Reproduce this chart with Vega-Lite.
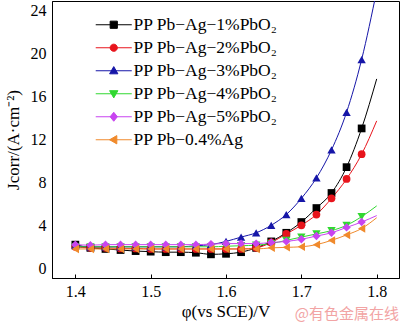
{
  "$schema": "https://vega.github.io/schema/vega-lite/v6.json",
  "width": 347,
  "height": 277,
  "autosize": {"type": "none"},
  "padding": {"left": 52, "top": 1, "right": 1, "bottom": 46},
  "background": "white",
  "title": {"text": "@有色金属在线", "orient": "bottom", "anchor": "end", "frame": "group", "color": "#f2a4a4", "fontSize": 15, "font": "Noto Sans CJK SC", "fontWeight": "normal", "offset": -12},
  "config": {
    "view": {"stroke": "black", "strokeWidth": 1},
    "axis": {"labelFont": "Liberation Serif", "labelFontSize": 16, "labelColor": "black", "titleFont": "Liberation Serif", "titleFontSize": 17, "titleFontWeight": "normal", "titleColor": "black", "domainColor": "black", "tickColor": "black", "grid": false},
    "legend": {"labelFont": "Liberation Serif", "labelFontSize": 17.5, "labelColor": "black"}
  },
  "data": {"values": [
    {"s":"PP Pb−Ag−1%PbO₂","x":1.40,"y":2.2},{"s":"PP Pb−Ag−1%PbO₂","x":1.42,"y":1.9},{"s":"PP Pb−Ag−1%PbO₂","x":1.44,"y":1.8},{"s":"PP Pb−Ag−1%PbO₂","x":1.46,"y":1.7},{"s":"PP Pb−Ag−1%PbO₂","x":1.48,"y":1.6},{"s":"PP Pb−Ag−1%PbO₂","x":1.50,"y":1.55},{"s":"PP Pb−Ag−1%PbO₂","x":1.52,"y":1.5},{"s":"PP Pb−Ag−1%PbO₂","x":1.54,"y":1.5},{"s":"PP Pb−Ag−1%PbO₂","x":1.56,"y":1.45},{"s":"PP Pb−Ag−1%PbO₂","x":1.58,"y":1.3},{"s":"PP Pb−Ag−1%PbO₂","x":1.60,"y":1.35},{"s":"PP Pb−Ag−1%PbO₂","x":1.62,"y":1.5},{"s":"PP Pb−Ag−1%PbO₂","x":1.64,"y":1.9},{"s":"PP Pb−Ag−1%PbO₂","x":1.66,"y":2.5},{"s":"PP Pb−Ag−1%PbO₂","x":1.68,"y":3.3},{"s":"PP Pb−Ag−1%PbO₂","x":1.70,"y":4.3},{"s":"PP Pb−Ag−1%PbO₂","x":1.72,"y":5.6},{"s":"PP Pb−Ag−1%PbO₂","x":1.74,"y":7.0},{"s":"PP Pb−Ag−1%PbO₂","x":1.76,"y":9.4},{"s":"PP Pb−Ag−1%PbO₂","x":1.78,"y":13.0},{"s":"PP Pb−Ag−1%PbO₂","x":1.80,"y":17.6},
    {"s":"PP Pb−Ag−2%PbO₂","x":1.40,"y":2.0},{"s":"PP Pb−Ag−2%PbO₂","x":1.42,"y":1.9},{"s":"PP Pb−Ag−2%PbO₂","x":1.44,"y":1.9},{"s":"PP Pb−Ag−2%PbO₂","x":1.46,"y":1.85},{"s":"PP Pb−Ag−2%PbO₂","x":1.48,"y":1.85},{"s":"PP Pb−Ag−2%PbO₂","x":1.50,"y":1.8},{"s":"PP Pb−Ag−2%PbO₂","x":1.52,"y":1.8},{"s":"PP Pb−Ag−2%PbO₂","x":1.54,"y":1.8},{"s":"PP Pb−Ag−2%PbO₂","x":1.56,"y":1.8},{"s":"PP Pb−Ag−2%PbO₂","x":1.58,"y":1.8},{"s":"PP Pb−Ag−2%PbO₂","x":1.60,"y":1.8},{"s":"PP Pb−Ag−2%PbO₂","x":1.62,"y":1.8},{"s":"PP Pb−Ag−2%PbO₂","x":1.64,"y":1.9},{"s":"PP Pb−Ag−2%PbO₂","x":1.66,"y":2.4},{"s":"PP Pb−Ag−2%PbO₂","x":1.68,"y":3.2},{"s":"PP Pb−Ag−2%PbO₂","x":1.70,"y":4.0},{"s":"PP Pb−Ag−2%PbO₂","x":1.72,"y":5.0},{"s":"PP Pb−Ag−2%PbO₂","x":1.74,"y":6.5},{"s":"PP Pb−Ag−2%PbO₂","x":1.76,"y":8.3},{"s":"PP Pb−Ag−2%PbO₂","x":1.78,"y":10.6},{"s":"PP Pb−Ag−2%PbO₂","x":1.80,"y":13.7},
    {"s":"PP Pb−Ag−3%PbO₂","x":1.40,"y":2.1},{"s":"PP Pb−Ag−3%PbO₂","x":1.42,"y":2.0},{"s":"PP Pb−Ag−3%PbO₂","x":1.44,"y":2.0},{"s":"PP Pb−Ag−3%PbO₂","x":1.46,"y":2.0},{"s":"PP Pb−Ag−3%PbO₂","x":1.48,"y":2.0},{"s":"PP Pb−Ag−3%PbO₂","x":1.50,"y":2.0},{"s":"PP Pb−Ag−3%PbO₂","x":1.52,"y":2.0},{"s":"PP Pb−Ag−3%PbO₂","x":1.54,"y":2.0},{"s":"PP Pb−Ag−3%PbO₂","x":1.56,"y":2.1},{"s":"PP Pb−Ag−3%PbO₂","x":1.58,"y":2.2},{"s":"PP Pb−Ag−3%PbO₂","x":1.60,"y":2.5},{"s":"PP Pb−Ag−3%PbO₂","x":1.62,"y":2.9},{"s":"PP Pb−Ag−3%PbO₂","x":1.64,"y":3.3},{"s":"PP Pb−Ag−3%PbO₂","x":1.66,"y":4.0},{"s":"PP Pb−Ag−3%PbO₂","x":1.68,"y":5.0},{"s":"PP Pb−Ag−3%PbO₂","x":1.70,"y":6.5},{"s":"PP Pb−Ag−3%PbO₂","x":1.72,"y":8.4},{"s":"PP Pb−Ag−3%PbO₂","x":1.74,"y":11.0},{"s":"PP Pb−Ag−3%PbO₂","x":1.76,"y":14.5},{"s":"PP Pb−Ag−3%PbO₂","x":1.78,"y":19.4},{"s":"PP Pb−Ag−3%PbO₂","x":1.80,"y":25.8},
    {"s":"PP Pb−Ag−4%PbO₂","x":1.40,"y":2.0},{"s":"PP Pb−Ag−4%PbO₂","x":1.42,"y":2.0},{"s":"PP Pb−Ag−4%PbO₂","x":1.44,"y":2.0},{"s":"PP Pb−Ag−4%PbO₂","x":1.46,"y":2.0},{"s":"PP Pb−Ag−4%PbO₂","x":1.48,"y":2.0},{"s":"PP Pb−Ag−4%PbO₂","x":1.50,"y":2.0},{"s":"PP Pb−Ag−4%PbO₂","x":1.52,"y":2.0},{"s":"PP Pb−Ag−4%PbO₂","x":1.54,"y":2.0},{"s":"PP Pb−Ag−4%PbO₂","x":1.56,"y":2.0},{"s":"PP Pb−Ag−4%PbO₂","x":1.58,"y":2.0},{"s":"PP Pb−Ag−4%PbO₂","x":1.60,"y":2.05},{"s":"PP Pb−Ag−4%PbO₂","x":1.62,"y":2.1},{"s":"PP Pb−Ag−4%PbO₂","x":1.64,"y":2.15},{"s":"PP Pb−Ag−4%PbO₂","x":1.66,"y":2.3},{"s":"PP Pb−Ag−4%PbO₂","x":1.68,"y":2.6},{"s":"PP Pb−Ag−4%PbO₂","x":1.70,"y":2.9},{"s":"PP Pb−Ag−4%PbO₂","x":1.72,"y":3.2},{"s":"PP Pb−Ag−4%PbO₂","x":1.74,"y":3.5},{"s":"PP Pb−Ag−4%PbO₂","x":1.76,"y":4.0},{"s":"PP Pb−Ag−4%PbO₂","x":1.78,"y":4.8},{"s":"PP Pb−Ag−4%PbO₂","x":1.80,"y":5.8},
    {"s":"PP Pb−Ag−5%PbO₂","x":1.40,"y":2.2},{"s":"PP Pb−Ag−5%PbO₂","x":1.42,"y":2.15},{"s":"PP Pb−Ag−5%PbO₂","x":1.44,"y":2.2},{"s":"PP Pb−Ag−5%PbO₂","x":1.46,"y":2.2},{"s":"PP Pb−Ag−5%PbO₂","x":1.48,"y":2.2},{"s":"PP Pb−Ag−5%PbO₂","x":1.50,"y":2.2},{"s":"PP Pb−Ag−5%PbO₂","x":1.52,"y":2.2},{"s":"PP Pb−Ag−5%PbO₂","x":1.54,"y":2.2},{"s":"PP Pb−Ag−5%PbO₂","x":1.56,"y":2.2},{"s":"PP Pb−Ag−5%PbO₂","x":1.58,"y":2.25},{"s":"PP Pb−Ag−5%PbO₂","x":1.60,"y":2.3},{"s":"PP Pb−Ag−5%PbO₂","x":1.62,"y":2.3},{"s":"PP Pb−Ag−5%PbO₂","x":1.64,"y":2.3},{"s":"PP Pb−Ag−5%PbO₂","x":1.66,"y":2.4},{"s":"PP Pb−Ag−5%PbO₂","x":1.68,"y":2.5},{"s":"PP Pb−Ag−5%PbO₂","x":1.70,"y":2.7},{"s":"PP Pb−Ag−5%PbO₂","x":1.72,"y":3.0},{"s":"PP Pb−Ag−5%PbO₂","x":1.74,"y":3.3},{"s":"PP Pb−Ag−5%PbO₂","x":1.76,"y":3.8},{"s":"PP Pb−Ag−5%PbO₂","x":1.78,"y":4.3},{"s":"PP Pb−Ag−5%PbO₂","x":1.80,"y":4.9},
    {"s":"PP Pb−0.4%Ag","x":1.40,"y":1.8},{"s":"PP Pb−0.4%Ag","x":1.42,"y":1.8},{"s":"PP Pb−0.4%Ag","x":1.44,"y":1.8},{"s":"PP Pb−0.4%Ag","x":1.46,"y":1.8},{"s":"PP Pb−0.4%Ag","x":1.48,"y":1.8},{"s":"PP Pb−0.4%Ag","x":1.50,"y":1.8},{"s":"PP Pb−0.4%Ag","x":1.52,"y":1.8},{"s":"PP Pb−0.4%Ag","x":1.54,"y":1.8},{"s":"PP Pb−0.4%Ag","x":1.56,"y":1.8},{"s":"PP Pb−0.4%Ag","x":1.58,"y":1.8},{"s":"PP Pb−0.4%Ag","x":1.60,"y":1.8},{"s":"PP Pb−0.4%Ag","x":1.62,"y":1.8},{"s":"PP Pb−0.4%Ag","x":1.64,"y":1.8},{"s":"PP Pb−0.4%Ag","x":1.66,"y":1.9},{"s":"PP Pb−0.4%Ag","x":1.68,"y":1.95},{"s":"PP Pb−0.4%Ag","x":1.70,"y":2.0},{"s":"PP Pb−0.4%Ag","x":1.72,"y":2.2},{"s":"PP Pb−0.4%Ag","x":1.74,"y":2.6},{"s":"PP Pb−0.4%Ag","x":1.76,"y":3.1},{"s":"PP Pb−0.4%Ag","x":1.78,"y":3.7},{"s":"PP Pb−0.4%Ag","x":1.80,"y":4.7}
  ]},
  "encoding": {
    "x": {"field": "x", "type": "quantitative", "scale": {"domain": [1.369, 1.8296], "nice": false, "zero": false},
      "axis": {"title": "φ(vs SCE)/V", "values": [1.4, 1.5, 1.6, 1.7, 1.8], "format": ".1f", "tickSize": -4, "labelPadding": 9, "titlePadding": 4}},
    "y": {"field": "y", "type": "quantitative", "scale": {"domain": [-0.9, 24.84], "nice": false, "zero": false},
      "axis": {"title": "Jcorr/(A·cm⁻²)", "values": [0, 4, 8, 12, 16, 20, 24], "ticks": false, "labelPadding": 6, "titlePadding": 8}}
  },
  "layer": [
    {"mark": {"type": "line", "interpolate": "monotone", "strokeWidth": 1, "clip": true},
     "encoding": {"color": {"field": "s", "type": "nominal", "legend": null,
       "scale": {"domain": ["PP Pb−Ag−1%PbO₂","PP Pb−Ag−2%PbO₂","PP Pb−Ag−3%PbO₂","PP Pb−Ag−4%PbO₂","PP Pb−Ag−5%PbO₂","PP Pb−0.4%Ag","-"], "range": ["#000000","#e8141c","#1616a8","#30d830","#c844f0","#f08a2c","#000000"]}}}},
    {"transform": [{"filter": "datum.x < 1.79 && datum.s == 'PP Pb−Ag−1%PbO₂'"}], "mark": {"type": "point", "shape": "square", "filled": true, "size": 60, "opacity": 1}, "encoding": {"color": {"field": "s", "type": "nominal", "legend": null}}},
    {"transform": [{"filter": "datum.x < 1.79 && datum.s == 'PP Pb−Ag−2%PbO₂'"}], "mark": {"type": "point", "shape": "circle", "filled": true, "size": 60, "opacity": 1}, "encoding": {"color": {"field": "s", "type": "nominal", "legend": null}}},
    {"transform": [{"filter": "datum.x < 1.79 && datum.s == 'PP Pb−Ag−3%PbO₂'"}], "mark": {"type": "point", "shape": "triangle-up", "filled": true, "size": 70, "opacity": 1}, "encoding": {"color": {"field": "s", "type": "nominal", "legend": null}}},
    {"transform": [{"filter": "datum.x < 1.79 && datum.s == 'PP Pb−Ag−4%PbO₂'"}], "mark": {"type": "point", "shape": "triangle-down", "filled": true, "size": 70, "opacity": 1}, "encoding": {"color": {"field": "s", "type": "nominal", "legend": null}}},
    {"transform": [{"filter": "datum.x < 1.79 && datum.s == 'PP Pb−Ag−5%PbO₂'"}], "mark": {"type": "point", "shape": "diamond", "filled": true, "size": 70, "opacity": 1}, "encoding": {"color": {"field": "s", "type": "nominal", "legend": null}}},
    {"transform": [{"filter": "datum.x < 1.79 && datum.s == 'PP Pb−0.4%Ag'"}], "mark": {"type": "point", "shape": "triangle-left", "filled": true, "size": 70, "opacity": 1}, "encoding": {"color": {"field": "s", "type": "nominal", "legend": null}}},
    {"transform": [{"filter": "datum.x < 1.41"}],
     "mark": {"type": "point", "filled": true, "size": 52, "opacity": 0},
     "encoding": {
       "fill": {"field": "s", "type": "nominal", "scale": {"domain": ["PP Pb−Ag−1%PbO₂","PP Pb−Ag−2%PbO₂","PP Pb−Ag−3%PbO₂","PP Pb−Ag−4%PbO₂","PP Pb−Ag−5%PbO₂","PP Pb−0.4%Ag"], "range": ["#000000","#e8141c","#1616a8","#30d830","#c844f0","#f08a2c"]},
         "legend": {"title": null, "orient": "none", "legendX": 53, "legendY": 15, "padding": 0, "labelOffset": 11, "rowPadding": 4, "symbolOpacity": 1, "symbolSize": 52, "symbolStrokeWidth": 1}},
       "stroke": {"field": "s", "type": "nominal", "scale": {"domain": ["PP Pb−Ag−1%PbO₂","PP Pb−Ag−2%PbO₂","PP Pb−Ag−3%PbO₂","PP Pb−Ag−4%PbO₂","PP Pb−Ag−5%PbO₂","PP Pb−0.4%Ag"], "range": ["#000000","#e8141c","#1616a8","#30d830","#c844f0","#f08a2c"]},
         "legend": {"title": null, "orient": "none", "legendX": 53, "legendY": 15, "padding": 0, "labelOffset": 11, "rowPadding": 4, "symbolOpacity": 1, "symbolSize": 52, "symbolStrokeWidth": 1}},
       "shape": {"field": "s", "type": "nominal",
         "scale": {"domain": ["PP Pb−Ag−1%PbO₂","PP Pb−Ag−2%PbO₂","PP Pb−Ag−3%PbO₂","PP Pb−Ag−4%PbO₂","PP Pb−Ag−5%PbO₂","PP Pb−0.4%Ag"],
           "range": ["M-5,0H5M-1,-1H1V1H-1Z", "M-5,0H5M-1,0A1,1 0 1,0 1,0A1,1 0 1,0 -1,0Z", "M-5,0H5M0,-1.15L1.15,0.85H-1.15Z", "M-5,0H5M0,1.15L1.15,-0.85H-1.15Z", "M-5,0H5M0,-1.25L1,0L0,1.25L-1,0Z", "M-5,0H5M-1.15,0L0.85,-1.15V1.15Z"]},
         "legend": {"title": null, "orient": "none", "legendX": 53, "legendY": 15, "padding": 0, "labelOffset": 11, "rowPadding": 4, "symbolOpacity": 1, "symbolSize": 52, "symbolStrokeWidth": 1}}
     }}
  ]
}
